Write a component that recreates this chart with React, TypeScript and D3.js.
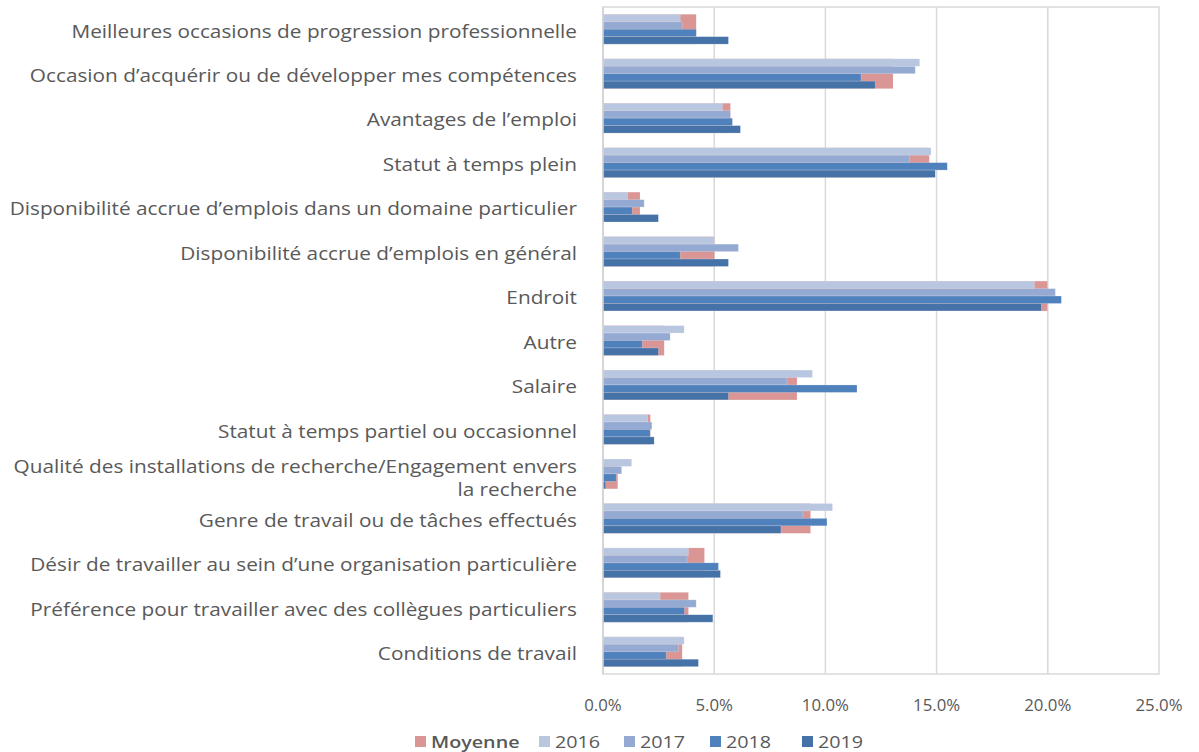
import React, { useRef, useEffect } from "react";
import * as d3 from "d3";

const categories = [
  "Meilleures occasions de progression professionnelle",
  "Occasion d’acquérir ou de développer mes compétences",
  "Avantages de l’emploi",
  "Statut à temps plein",
  "Disponibilité accrue d’emplois dans un domaine particulier",
  "Disponibilité accrue d’emplois en général",
  "Endroit",
  "Autre",
  "Salaire",
  "Statut à temps partiel ou occasionnel",
  "Qualité des installations de recherche/Engagement envers|la recherche",
  "Genre de travail ou de tâches effectués",
  "Désir de travailler au sein d’une organisation particulière",
  "Préférence pour travailler avec des collègues particuliers",
  "Conditions de travail",
];

const moyenne = [4.19, 13.04, 5.73, 14.67, 1.66, 5.01, 19.98, 2.75, 8.72, 2.13, 0.66, 9.33, 4.56, 3.84, 3.56];
const y2016 = [3.47, 14.24, 5.37, 14.75, 1.11, 5.0, 19.4, 3.65, 9.42, 2.01, 1.29, 10.32, 3.84, 2.57, 3.65];
const y2017 = [3.56, 14.04, 5.72, 13.79, 1.85, 6.09, 20.34, 3.02, 8.27, 2.2, 0.84, 8.99, 3.77, 4.19, 3.39];
const y2018 = [4.19, 11.6, 5.82, 15.48, 1.31, 3.47, 20.61, 1.76, 11.42, 2.12, 0.59, 10.07, 5.19, 3.66, 2.84];
const y2019 = [5.64, 12.24, 6.18, 14.94, 2.49, 5.64, 19.71, 2.49, 5.64, 2.3, 0.12, 8.0, 5.28, 4.94, 4.29];

const years = ["2016", "2017", "2018", "2019"];
const xTicks = [0, 5, 10, 15, 20, 25];

const App = () => {
  const svgRef = useRef(null);

  const drawChart = () => {
    const width = 1199;
    const height = 752;
    const plot = { left: 603, right: 1159, top: 7, bottom: 674 };
    const font = "'Open Sans', sans-serif";
    const textColor = "#595959";
    const colors = { Moyenne: "#D99694", 2016: "#B9C6E0", 2017: "#94AAD2", 2018: "#4F81BD", 2019: "#4572A7" };

    const svg = d3.select(svgRef.current);
    svg.selectAll("*").remove();
    svg.attr("width", width).attr("height", height);

    /* scales */
    const x = d3.scaleLinear().domain([0, 25]).range([plot.left, plot.right]);
    const y = d3.scaleBand().domain(categories).range([plot.top, plot.bottom]).paddingInner(0.33).paddingOuter(0.165);
    const ySub = d3.scaleBand().domain(years).range([0, y.bandwidth()]);

    /* grid + frame */
    svg
      .append("g")
      .selectAll("line")
      .data(xTicks.slice(1, -1))
      .enter()
      .append("line")
      .attr("x1", (d) => x(d))
      .attr("x2", (d) => x(d))
      .attr("y1", plot.top)
      .attr("y2", plot.bottom)
      .attr("stroke", "#D9D9D9")
      .attr("stroke-width", 1.5);

    svg
      .append("rect")
      .attr("x", plot.left)
      .attr("y", plot.top)
      .attr("width", plot.right - plot.left)
      .attr("height", plot.bottom - plot.top)
      .attr("fill", "none")
      .attr("stroke", "#D9D9D9")
      .attr("stroke-width", 1.5);

    /* moyenne: wide bar behind the years */
    svg
      .append("g")
      .selectAll("rect")
      .data(moyenne)
      .enter()
      .append("rect")
      .attr("x", x(0))
      .attr("y", (d, i) => y(categories[i]))
      .attr("width", (d) => x(d) - x(0))
      .attr("height", y.bandwidth())
      .attr("fill", colors.Moyenne);

    /* yearly bars */
    const series = [y2016, y2017, y2018, y2019];
    series.forEach((values, s) => {
      svg
        .append("g")
        .selectAll("rect")
        .data(values)
        .enter()
        .append("rect")
        .attr("x", x(0))
        .attr("y", (d, i) => y(categories[i]) + ySub(years[s]))
        .attr("width", (d) => x(d) - x(0))
        .attr("height", ySub.bandwidth())
        .attr("fill", colors[years[s]])
        .attr("stroke", "#ffffff")
        .attr("stroke-opacity", 0.35)
        .attr("stroke-width", 0.6);
    });

    /* left axis line */
    svg
      .append("line")
      .attr("x1", x(0))
      .attr("x2", x(0))
      .attr("y1", plot.top)
      .attr("y2", plot.bottom)
      .attr("stroke", "#D0D0D0")
      .attr("stroke-width", 1.5);

    /* category labels (stretched a bit, like the narrow original font) */
    const labels = svg.append("g").attr("font-family", font).attr("font-size", 18).attr("fill", textColor);
    categories.forEach((c) => {
      const lines = c.split("|");
      const cy = y(c) + y.bandwidth() / 2 + 2 + (lines.length > 1 ? 2 : 0);
      lines.forEach((ln, k) => {
        labels
          .append("text")
          .attr("transform", `translate(577, ${cy + (k - (lines.length - 1) / 2) * 23}) scale(1.155, 1)`)
          .attr("dy", "0.35em")
          .attr("text-anchor", "end")
          .text(ln);
      });
    });

    /* x tick labels */
    svg
      .append("g")
      .attr("font-family", font)
      .attr("font-size", 16)
      .attr("fill", textColor)
      .selectAll("text")
      .data(xTicks)
      .enter()
      .append("text")
      .attr("transform", (d) => `translate(${x(d)}, 711) scale(1.05, 1)`)
      .attr("text-anchor", "middle")
      .text((d) => d.toFixed(1) + "%");

    /* legend */
    const legendItems = [
      { name: "Moyenne", x: 415 },
      { name: "2016", x: 539 },
      { name: "2017", x: 624 },
      { name: "2018", x: 710 },
      { name: "2019", x: 802 },
    ];
    const legend = svg.append("g").attr("font-family", font).attr("font-size", 17).attr("fill", textColor);
    legendItems.forEach((it) => {
      legend
        .append("rect")
        .attr("x", it.x)
        .attr("y", 736)
        .attr("width", 11)
        .attr("height", 11)
        .attr("fill", colors[it.name]);
      legend
        .append("text")
        .attr("transform", `translate(${it.x + 16}, 748) scale(1.16, 1)`)
        .attr("font-weight", it.name === "Moyenne" ? 600 : 400)
        .text(it.name);
    });
  };

  useEffect(() => {
    drawChart();
  }, []);

  return (
    <div style={{ position: "absolute", left: 0, top: 0 }}>
      <svg ref={svgRef} style={{ display: "block" }} />
    </div>
  );
};

export default App;
